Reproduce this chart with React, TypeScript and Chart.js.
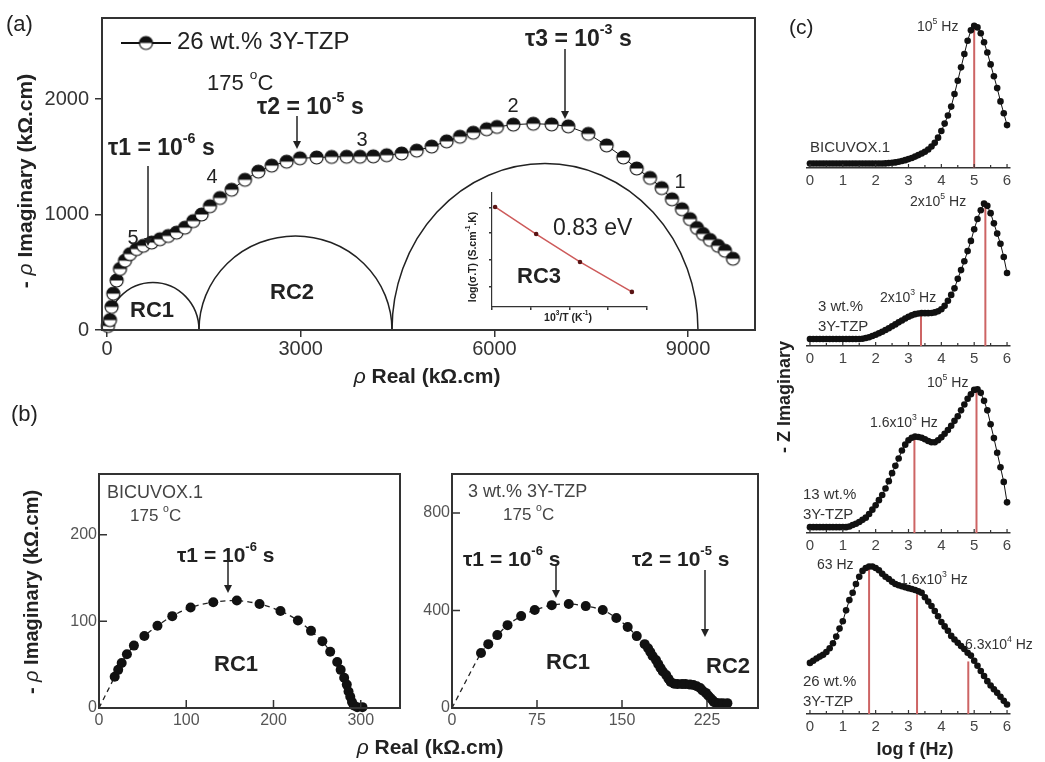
import React, { useEffect, useRef } from "react";
import { Chart, registerables } from "chart.js";
Chart.register(...registerables);

const FAMILY = '"Liberation Sans", Arial, Helvetica, sans-serif';

// ---------------- Panel (a) ----------------
const aReal = [15, 46, 72, 98, 150, 201, 279, 356, 460, 562, 692, 821, 949, 1078, 1208, 1337, 1466, 1595, 1750, 1931, 2137, 2344, 2551, 2783, 2989, 3247, 3480, 3712, 3918, 4124, 4332, 4564, 4797, 5029, 5261, 5467, 5673, 5880, 6040, 6293, 6602, 6887, 7144, 7454, 7739, 7997, 8204, 8410, 8591, 8750, 8905, 9029, 9137, 9230, 9339, 9463, 9571, 9695];
const aImag = [35, 86, 200, 315, 429, 529, 601, 658, 701, 730, 758, 787, 815, 844, 887, 944, 1001, 1073, 1144, 1216, 1302, 1373, 1425, 1459, 1488, 1495, 1500, 1502, 1502, 1505, 1515, 1530, 1555, 1590, 1635, 1675, 1710, 1740, 1760, 1780, 1788, 1782, 1765, 1700, 1600, 1495, 1400, 1318, 1230, 1133, 1047, 961, 884, 833, 781, 730, 687, 618];
const aTicksX = [0, 3000, 6000, 9000];
const aTicksY = [0, 1000, 2000];
const rcNames = ["RC1", "RC2", "RC3"];
const rcStart = [0, 1425, 4414];
const rcEnd = [1425, 4414, 9153];
const rcHeight = [412, 815, 1442];

// inset (Arrhenius plot)
const insetInvT = [2.008, 2.114, 2.227, 2.361];
const insetLogSigmaT = [-0.49, -1.44, -2.42, -3.47];
const insetTicksX = [2.0, 2.1, 2.2, 2.3, 2.4];
const insetTicksY = [-0.5, -1.4, -2.35, -3.3];

// ---------------- Panel (b) ----------------
const b1Real = [18, 22, 26, 32, 40, 52, 67, 84, 105, 131, 158, 184, 208, 228, 243, 256, 265, 273, 277, 281, 284, 286, 288, 290, 292, 296, 302];
const b1Imag = [36, 44, 52, 62, 72, 83, 95, 106, 116, 122, 124, 120, 112, 101, 89, 77, 65, 53, 44, 35, 27, 19, 13, 7, 3, 1, 1];
const b1TicksX = [0, 100, 200, 300];
const b1TicksY = [0, 100, 200];

const b2Real = [25.6, 32, 40, 49, 61, 73, 88, 103, 118, 133, 145, 155, 163, 170, 173, 175, 177, 180, 182, 184, 186, 189, 191, 193, 196, 199, 203, 206, 210, 213, 216, 219, 221, 224, 226, 228, 230, 231, 233, 236, 239, 243];
const b2Imag = [226, 262, 299, 340, 377, 402, 422, 427, 418, 402, 369, 332, 295, 262, 245, 230, 213, 197, 180, 164, 150, 135, 120, 107, 100, 98, 98, 98, 96, 94, 89, 82, 72, 62, 51, 41, 32, 25, 21, 20, 20, 20];
const b2TicksX = [0, 75, 150, 225];
const b2TicksY = [0, 400, 800];
const fitOrigin = { x: 0, y: 0 };

// ---------------- Panel (c) ----------------
const logF = [0, 0.1, 0.2, 0.3, 0.4, 0.5, 0.6, 0.7, 0.8, 0.9, 1, 1.1, 1.2, 1.3, 1.4, 1.5, 1.6, 1.7, 1.8, 1.9, 2, 2.1, 2.2, 2.3, 2.4, 2.5, 2.6, 2.7, 2.8, 2.9, 3, 3.1, 3.2, 3.3, 3.4, 3.5, 3.6, 3.7, 3.8, 3.9, 4, 4.1, 4.2, 4.3, 4.4, 4.5, 4.6, 4.7, 4.8, 4.9, 5, 5.1, 5.2, 5.3, 5.4, 5.5, 5.6, 5.7, 5.8, 5.9, 6];
const cBicuvox = [0.03, 0.03, 0.03, 0.03, 0.03, 0.03, 0.03, 0.03, 0.03, 0.03, 0.03, 0.03, 0.03, 0.03, 0.03, 0.03, 0.03, 0.03, 0.03, 0.03, 0.03, 0.03, 0.03, 0.031, 0.033, 0.035, 0.038, 0.042, 0.047, 0.053, 0.06, 0.068, 0.077, 0.087, 0.098, 0.11, 0.125, 0.145, 0.17, 0.205, 0.25, 0.3, 0.355, 0.415, 0.5, 0.59, 0.68, 0.77, 0.86, 0.93, 0.96, 0.95, 0.91, 0.85, 0.78, 0.7, 0.62, 0.54, 0.45, 0.37, 0.29];
const c3wt = [0.048, 0.048, 0.048, 0.048, 0.048, 0.048, 0.048, 0.048, 0.048, 0.048, 0.048, 0.048, 0.048, 0.048, 0.048, 0.048, 0.05, 0.055, 0.06, 0.068, 0.077, 0.087, 0.098, 0.11, 0.122, 0.135, 0.148, 0.162, 0.175, 0.188, 0.2, 0.21, 0.218, 0.223, 0.225, 0.225, 0.225, 0.226, 0.23, 0.238, 0.252, 0.275, 0.31, 0.35, 0.395, 0.46, 0.52, 0.58, 0.65, 0.72, 0.8, 0.87, 0.93, 0.975, 0.96, 0.91, 0.84, 0.77, 0.7, 0.61, 0.5];
const c13wt = [0.04, 0.04, 0.04, 0.04, 0.04, 0.04, 0.04, 0.04, 0.04, 0.04, 0.04, 0.04, 0.045, 0.055, 0.063, 0.075, 0.09, 0.105, 0.13, 0.16, 0.19, 0.225, 0.26, 0.305, 0.355, 0.41, 0.46, 0.51, 0.565, 0.605, 0.635, 0.652, 0.66, 0.658, 0.652, 0.642, 0.63, 0.622, 0.622, 0.635, 0.655, 0.68, 0.705, 0.735, 0.768, 0.8, 0.84, 0.88, 0.92, 0.95, 0.98, 0.985, 0.96, 0.905, 0.84, 0.745, 0.65, 0.55, 0.45, 0.35, 0.21];
const c26wt = [0.35, 0.365, 0.38, 0.393, 0.405, 0.425, 0.45, 0.485, 0.53, 0.585, 0.635, 0.71, 0.78, 0.83, 0.89, 0.94, 0.98, 1.0, 1.01, 1.01, 1.0, 0.985, 0.96, 0.94, 0.925, 0.905, 0.89, 0.882, 0.875, 0.868, 0.862, 0.856, 0.849, 0.84, 0.83, 0.8, 0.77, 0.74, 0.705, 0.67, 0.63, 0.6, 0.57, 0.535, 0.51, 0.488, 0.465, 0.445, 0.42, 0.4, 0.365, 0.33, 0.295, 0.26, 0.225, 0.195, 0.17, 0.145, 0.118, 0.09, 0.065];
const cTicks = [0, 1, 2, 3, 4, 5, 6];
const cMinorTicks = [0.5, 1.5, 2.5, 3.5, 4.5, 5.5];
const peaksBicuvoxX = [5.0];
const peaksBicuvoxH = [0.96];
const peaks3wtX = [3.38, 5.34];
const peaks3wtH = [0.215, 0.975];
const peaks13wtX = [3.18, 5.07];
const peaks13wtH = [0.655, 0.985];
const peaks26wtX = [1.8, 3.26, 4.82];
const peaks26wtH = [1.01, 0.82, 0.36];

// ---------------- helpers ----------------
type Seg = { t: string; sup?: boolean; it?: boolean; b?: boolean };

function fontStr(size: number, bold: boolean, italic: boolean) {
  return `${italic ? "italic " : ""}${bold ? "bold " : ""}${size}px ${FAMILY}`;
}

function rich(
  ctx: CanvasRenderingContext2D,
  segs: Seg[] | string,
  x: number,
  y: number,
  size: number,
  o: { bold?: boolean; align?: "left" | "center" | "right"; color?: string; rot?: boolean } = {}
) {
  const list: Seg[] = typeof segs === "string" ? [{ t: segs }] : segs;
  ctx.save();
  ctx.translate(x, y);
  if (o.rot) ctx.rotate(-Math.PI / 2);
  ctx.fillStyle = o.color || "#222";
  ctx.textBaseline = "middle";
  ctx.textAlign = "left";
  const widths = list.map((s) => {
    const sz = s.sup ? size * 0.62 : size;
    ctx.font = fontStr(sz, s.b !== undefined ? s.b : !!o.bold, !!s.it);
    return ctx.measureText(s.t).width;
  });
  const total = widths.reduce((a, b) => a + b, 0);
  let cx = o.align === "center" ? -total / 2 : o.align === "right" ? -total : 0;
  list.forEach((s, i) => {
    const sz = s.sup ? size * 0.62 : size;
    ctx.font = fontStr(sz, s.b !== undefined ? s.b : !!o.bold, !!s.it);
    ctx.fillText(s.t, cx, s.sup ? -size * 0.42 : 0);
    cx += widths[i];
  });
  ctx.restore();
}

function arrow(ctx: CanvasRenderingContext2D, x: number, y1: number, y2: number, head = 8) {
  ctx.save();
  ctx.strokeStyle = "#222";
  ctx.fillStyle = "#222";
  ctx.lineWidth = 1.5;
  ctx.beginPath();
  ctx.moveTo(x, y1);
  ctx.lineTo(x, y2 - head + 1);
  ctx.stroke();
  ctx.beginPath();
  ctx.moveTo(x - head * 0.5, y2 - head);
  ctx.lineTo(x + head * 0.5, y2 - head);
  ctx.lineTo(x, y2);
  ctx.closePath();
  ctx.fill();
  ctx.restore();
}

function tau(n: string, exp: string): Seg[] {
  return [{ t: "τ" + n + " = 10" }, { t: exp, sup: true }, { t: " s" }];
}

function halfMarker(r: number) {
  const size = Math.ceil(2 * r + 4);
  const c = document.createElement("canvas");
  c.width = size;
  c.height = size;
  const g = c.getContext("2d")!;
  const m = size / 2;
  g.fillStyle = "#fff";
  g.beginPath();
  g.arc(m, m, r, 0, Math.PI * 2);
  g.fill();
  g.fillStyle = "#111";
  g.beginPath();
  g.arc(m, m, r, Math.PI, Math.PI * 2);
  g.closePath();
  g.fill();
  g.strokeStyle = "#111";
  g.lineWidth = 1.2;
  g.beginPath();
  g.arc(m, m, r, 0, Math.PI * 2);
  g.stroke();
  return c;
}

const fixedTicks = (values: number[]) => (s: any) => {
  s.ticks = values.map((v) => ({ value: v }));
};

function axis(
  min: number,
  max: number,
  ticks: number[],
  dir: "x" | "y",
  size: number,
  o: { font: number; color: string; pad: number; outTicks: number; border: number; show?: boolean }
) {
  return {
    type: "linear",
    min,
    max,
    afterBuildTicks: fixedTicks(ticks),
    afterFit: (s: any) => {
      if (dir === "x") s.height = size;
      else s.width = size;
    },
    grid: {
      drawOnChartArea: false,
      drawTicks: o.outTicks > 0,
      tickLength: o.outTicks,
      color: "#333",
      lineWidth: 1.5,
    },
    border: { display: true, color: "#333", width: o.border },
    ticks: {
      display: o.show !== false,
      color: o.color,
      font: { family: FAMILY, size: o.font },
      padding: o.pad,
      maxRotation: 0,
      autoSkip: false,
      callback: (v: any) => String(v),
    },
  } as any;
}

const baseOpts = {
  animation: false,
  responsive: false,
  devicePixelRatio: 1,
  events: [] as any[],
  plugins: { legend: { display: false }, tooltip: { enabled: false } },
};

function frame(ctx: CanvasRenderingContext2D, a: any, w = 2) {
  ctx.save();
  ctx.strokeStyle = "#333";
  ctx.lineWidth = w;
  ctx.strokeRect(a.left, a.top, a.right - a.left, a.bottom - a.top);
  ctx.restore();
}

function inwardTicks(ctx: CanvasRenderingContext2D, chart: any, xs: number[], ys: number[], len: number) {
  const a = chart.chartArea;
  const sx = chart.scales.x;
  const sy = chart.scales.y;
  ctx.save();
  ctx.strokeStyle = "#333";
  ctx.lineWidth = 1.5;
  ctx.beginPath();
  xs.forEach((v) => {
    const p = sx.getPixelForValue(v);
    ctx.moveTo(p, a.bottom);
    ctx.lineTo(p, a.bottom - len);
  });
  ys.forEach((v) => {
    const p = sy.getPixelForValue(v);
    ctx.moveTo(a.left, p);
    ctx.lineTo(a.left + len, p);
  });
  ctx.stroke();
  ctx.restore();
}

// ---------------- builders ----------------
function buildA(canvas: HTMLCanvasElement) {
  const marker = halfMarker(6.5);
  const pts = aReal.map((x, i) => ({ x, y: aImag[i] }));
  return new Chart(canvas, {
    type: "scatter",
    data: {
      datasets: [
        {
          data: pts,
          showLine: true,
          borderColor: "#111",
          borderWidth: 1,
          pointStyle: marker as any,
          pointRadius: 7,
          clip: false as any,
        },
      ],
    },
    options: {
      ...baseOpts,
      layout: { padding: { left: 0, top: 15, right: 15, bottom: 0 } },
      scales: {
        x: axis(-77, 10036, aTicksX, "x", 70, { font: 20, color: "#333", pad: 0, outTicks: 7, border: 2 }),
        y: axis(0, 2704, aTicksY, "y", 102, { font: 20, color: "#333", pad: 6, outTicks: 7, border: 2 }),
      },
    } as any,
    plugins: [
      {
        id: "aArcs",
        beforeDatasetsDraw(chart: any) {
          const ctx = chart.ctx;
          const sx = chart.scales.x;
          const sy = chart.scales.y;
          ctx.save();
          ctx.strokeStyle = "#222";
          ctx.lineWidth = 1.5;
          rcStart.forEach((s, i) => {
            const cx = sx.getPixelForValue((s + rcEnd[i]) / 2);
            const rx = sx.getPixelForValue(rcEnd[i]) - cx;
            const cy = sy.getPixelForValue(0);
            const ry = cy - sy.getPixelForValue(rcHeight[i]);
            ctx.beginPath();
            ctx.ellipse(cx, cy, rx, ry, 0, Math.PI, Math.PI * 2);
            ctx.stroke();
          });
          ctx.restore();
        },
        afterDraw(chart: any) {
          const ctx = chart.ctx as CanvasRenderingContext2D;
          frame(ctx, chart.chartArea, 2);
          // legend
          ctx.save();
          ctx.strokeStyle = "#111";
          ctx.lineWidth = 2;
          ctx.beginPath();
          ctx.moveTo(121, 43);
          ctx.lineTo(171, 43);
          ctx.stroke();
          ctx.drawImage(marker, 146 - marker.width / 2, 43 - marker.height / 2);
          ctx.restore();
          rich(ctx, "26 wt.% 3Y-TZP", 177, 42, 24);
          rich(ctx, [{ t: "175 " }, { t: "o", sup: true }, { t: "C" }], 207, 84, 22);
          rich(ctx, "(a)", 6, 25, 22);
          // tau labels
          rich(ctx, tau("1", "-6"), 108, 149, 23, { bold: true });
          arrow(ctx, 148, 166, 246);
          rich(ctx, tau("2", "-5"), 257, 108, 23, { bold: true });
          arrow(ctx, 297, 116, 149);
          rich(ctx, tau("3", "-3"), 525, 40, 23, { bold: true });
          arrow(ctx, 565, 49, 119);
          // frequency decade labels
          [["5", 133, 238], ["4", 212, 177], ["3", 362, 140], ["2", 513, 106], ["1", 680, 182]].forEach((d: any) =>
            rich(ctx, d[0], d[1], d[2], 20, { align: "center" })
          );
          // RC labels
          rich(ctx, rcNames[0], 152, 311, 22, { bold: true, align: "center" });
          rich(ctx, rcNames[1], 292, 293, 22, { bold: true, align: "center" });
          rich(ctx, rcNames[2], 539, 277, 22, { bold: true, align: "center" });
          rich(ctx, "0.83 eV", 553, 229, 23);
          // axis titles
          rich(ctx, [{ t: "ρ", it: true, b: false }, { t: " Real (kΩ.cm)" }], 427, 377, 21, { bold: true, align: "center" });
          rich(ctx, [{ t: "- " }, { t: "ρ", it: true, b: false }, { t: " Imaginary (kΩ.cm)" }], 26, 181, 21, {
            bold: true,
            align: "center",
            rot: true,
          });
        },
      },
    ],
  });
}

function buildInset(canvas: HTMLCanvasElement) {
  const pts = insetInvT.map((x, i) => ({ x, y: insetLogSigmaT[i] }));
  return new Chart(canvas, {
    type: "scatter",
    data: {
      datasets: [
        {
          data: pts,
          showLine: true,
          borderColor: "rgb(205,90,90)",
          borderWidth: 1.5,
          pointRadius: 2.3,
          pointBackgroundColor: "#5a1414",
          pointBorderWidth: 0,
          clip: false as any,
        },
      ],
    },
    options: {
      ...baseOpts,
      layout: { padding: { left: 0, top: 13, right: 23, bottom: 0 } },
      scales: {
        x: axis(2.0, 2.4, insetTicksX, "x", 33, { font: 10, color: "#333", pad: 0, outTicks: 3, border: 1.2, show: false }),
        y: axis(-4, 0, insetTicksY, "y", 52, { font: 10, color: "#333", pad: 0, outTicks: 3, border: 1.2, show: false }),
      },
    } as any,
    plugins: [
      {
        id: "insetText",
        afterDraw(chart: any) {
          const ctx = chart.ctx as CanvasRenderingContext2D;
          rich(ctx, [{ t: "log(σ.T) (S.cm" }, { t: "-1", sup: true }, { t: ".K)" }], 33, 77, 10.5, {
            bold: true,
            align: "center",
            rot: true,
          });
          rich(ctx, [{ t: "10" }, { t: "3", sup: true }, { t: "/T (K" }, { t: "-1", sup: true }, { t: ")" }], 128, 138, 10.5, {
            bold: true,
            align: "center",
          });
        },
      },
    ],
  });
}

function nyquistDatasets(real: number[], imag: number[]) {
  const pts = real.map((x, i) => ({ x, y: imag[i] }));
  return [
    {
      data: pts,
      showLine: false,
      pointRadius: 5,
      pointBackgroundColor: "#111",
      pointBorderWidth: 0,
      clip: false as any,
    },
    {
      data: [fitOrigin, ...pts],
      showLine: true,
      borderColor: "#222",
      borderWidth: 1.3,
      borderDash: [5, 4],
      tension: 0.3,
      pointRadius: 0,
      clip: false as any,
    },
  ];
}

function buildB1(canvas: HTMLCanvasElement) {
  return new Chart(canvas, {
    type: "scatter",
    data: { datasets: nyquistDatasets(b1Real, b1Imag) as any },
    options: {
      ...baseOpts,
      layout: { padding: { left: 0, top: 104, right: 4, bottom: 0 } },
      scales: {
        x: axis(0, 345, b1TicksX, "x", 54, { font: 16, color: "#555", pad: 3, outTicks: 0, border: 2 }),
        y: axis(0, 270, b1TicksY, "y", 99, { font: 16, color: "#555", pad: 2, outTicks: 0, border: 2 }),
      },
    } as any,
    plugins: [
      {
        id: "b1Deco",
        afterDraw(chart: any) {
          const ctx = chart.ctx as CanvasRenderingContext2D;
          frame(ctx, chart.chartArea, 2);
          inwardTicks(ctx, chart, b1TicksX, b1TicksY, 8);
          rich(ctx, "(b)", 11, 45, 22);
          rich(ctx, "BICUVOX.1", 107, 123, 18, { color: "#444" });
          rich(ctx, [{ t: "175 " }, { t: "o", sup: true }, { t: "C" }], 130, 146, 17, { color: "#444" });
          rich(ctx, tau("1", "-6"), 177, 186, 21, { bold: true });
          arrow(ctx, 228, 192, 223);
          rich(ctx, "RC1", 236, 295, 22, { bold: true, align: "center" });
          rich(ctx, [{ t: "- " }, { t: "ρ", it: true, b: false }, { t: " Imaginary (kΩ.cm)" }], 32, 222, 20, {
            bold: true,
            align: "center",
            rot: true,
          });
        },
      },
    ],
  });
}

function buildB2(canvas: HTMLCanvasElement) {
  return new Chart(canvas, {
    type: "scatter",
    data: { datasets: nyquistDatasets(b2Real, b2Imag) as any },
    options: {
      ...baseOpts,
      layout: { padding: { left: 0, top: 104, right: 12, bottom: 0 } },
      scales: {
        x: axis(0, 270, b2TicksX, "x", 54, { font: 16, color: "#555", pad: 3, outTicks: 0, border: 2 }),
        y: axis(0, 960, b2TicksY, "y", 122, { font: 16, color: "#555", pad: 2, outTicks: 0, border: 2 }),
      },
    } as any,
    plugins: [
      {
        id: "b2Deco",
        afterDraw(chart: any) {
          const ctx = chart.ctx as CanvasRenderingContext2D;
          frame(ctx, chart.chartArea, 2);
          inwardTicks(ctx, chart, b2TicksX, b2TicksY, 8);
          rich(ctx, "3 wt.% 3Y-TZP", 138, 122, 18, { color: "#444" });
          rich(ctx, [{ t: "175 " }, { t: "o", sup: true }, { t: "C" }], 173, 145, 17, { color: "#444" });
          rich(ctx, tau("1", "-6"), 133, 190, 21, { bold: true });
          arrow(ctx, 226, 196, 228);
          rich(ctx, tau("2", "-5"), 302, 190, 21, { bold: true });
          arrow(ctx, 375, 200, 267);
          rich(ctx, "RC1", 238, 293, 22, { bold: true, align: "center" });
          rich(ctx, "RC2", 398, 297, 22, { bold: true, align: "center" });
          rich(ctx, [{ t: "ρ", it: true, b: false }, { t: " Real (kΩ.cm)" }], 100, 378, 21, { bold: true, align: "center" });
        },
      },
    ],
  });
}

type CSpec = {
  padTop: number;
  axisH: number;
  values: number[];
  peakX: number[];
  peakH: number[];
  deco: (ctx: CanvasRenderingContext2D) => void;
};

function makeC(spec: CSpec) {
  return (canvas: HTMLCanvasElement) => {
    const pts = logF.map((x, i) => ({ x, y: spec.values[i] }));
    const reds = spec.peakX.map((x, i) => ({
      data: [
        { x, y: 0 },
        { x, y: spec.peakH[i] },
      ],
      showLine: true,
      borderColor: "rgb(205,100,100)",
      borderWidth: 2,
      pointRadius: 0,
      clip: false as any,
    }));
    return new Chart(canvas, {
      type: "scatter",
      data: {
        datasets: [
          {
            data: pts,
            showLine: true,
            borderColor: "#111",
            borderWidth: 1,
            pointRadius: 3.3,
            pointBackgroundColor: "#111",
            pointBorderWidth: 0,
            clip: false as any,
          },
          ...reds,
        ] as any,
      },
      options: {
        ...baseOpts,
        layout: { padding: { left: 37, top: spec.padTop, right: 35, bottom: 0 } },
        scales: {
          x: axis(-0.09, 6.09, cTicks, "x", spec.axisH, { font: 15, color: "#444", pad: 4, outTicks: 0, border: 1.5 }),
          y: { type: "linear", min: 0, max: 1, display: false },
        },
      } as any,
      plugins: [
        {
          id: "cDeco",
          afterDraw(chart: any) {
            const ctx = chart.ctx as CanvasRenderingContext2D;
            const sx = chart.scales.x;
            const b = chart.chartArea.bottom;
            ctx.save();
            ctx.strokeStyle = "#333";
            ctx.lineWidth = 1.2;
            ctx.beginPath();
            cTicks.forEach((v) => {
              const p = sx.getPixelForValue(v);
              ctx.moveTo(p, b);
              ctx.lineTo(p, b - 4);
            });
            cMinorTicks.forEach((v) => {
              const p = sx.getPixelForValue(v);
              ctx.moveTo(p, b);
              ctx.lineTo(p, b - 3);
            });
            ctx.stroke();
            ctx.restore();
            spec.deco(ctx);
          },
        },
      ],
    });
  };
}

const hz = (m: string, e: string): Seg[] => [{ t: m + "10" }, { t: e, sup: true }, { t: " Hz" }];

const buildC1 = makeC({
  padTop: 20,
  axisH: 32,
  values: cBicuvox,
  peakX: peaksBicuvoxX,
  peakH: peaksBicuvoxH,
  deco: (ctx) => {
    rich(ctx, "(c)", 19, 28, 21);
    rich(ctx, hz("", "5"), 147, 27, 14, { color: "#333" });
    rich(ctx, "BICUVOX.1", 40, 148, 15, { color: "#333" });
  },
});

const buildC2 = makeC({
  padTop: 20,
  axisH: 24,
  values: c3wt,
  peakX: peaks3wtX,
  peakH: peaks3wtH,
  deco: (ctx) => {
    rich(ctx, hz("2x", "5"), 140, 22, 14, { color: "#333" });
    rich(ctx, hz("2x", "3"), 110, 118, 14, { color: "#333" });
    rich(ctx, "3 wt.%", 48, 127, 15, { color: "#333" });
    rich(ctx, "3Y-TZP", 48, 147, 15, { color: "#333" });
  },
});

const buildC3 = makeC({
  padTop: 67,
  axisH: 27,
  values: c13wt,
  peakX: peaks13wtX,
  peakH: peaks13wtH,
  deco: (ctx) => {
    rich(ctx, "- Z Imaginary", 15, 77, 18, { bold: true, align: "center", rot: true });
    rich(ctx, hz("", "5"), 157, 63, 14, { color: "#333" });
    rich(ctx, hz("1.6x", "3"), 100, 103, 14, { color: "#333" });
    rich(ctx, "13 wt.%", 33, 175, 15, { color: "#333" });
    rich(ctx, "3Y-TZP", 33, 195, 15, { color: "#333" });
  },
});

const buildC4 = makeC({
  padTop: 28,
  axisH: 48,
  values: c26wt,
  peakX: peaks26wtX,
  peakH: peaks26wtH,
  deco: (ctx) => {
    rich(ctx, "63 Hz", 47, 25, 14, { color: "#333" });
    rich(ctx, hz("1.6x", "3"), 130, 40, 14, { color: "#333" });
    rich(ctx, hz("6.3x", "4"), 195, 105, 14, { color: "#333" });
    rich(ctx, "26 wt.%", 33, 142, 15, { color: "#333" });
    rich(ctx, "3Y-TZP", 33, 162, 15, { color: "#333" });
    rich(ctx, "log f (Hz)", 145, 210, 18, { bold: true, align: "center" });
  },
});

// ---------------- components ----------------
function ChartBox(props: {
  left: number;
  top: number;
  width: number;
  height: number;
  build: (c: HTMLCanvasElement) => Chart;
}) {
  const ref = useRef<HTMLCanvasElement | null>(null);
  const { left, top, width, height, build } = props;
  useEffect(() => {
    if (!ref.current) return;
    const ch = build(ref.current);
    return () => ch.destroy();
  }, [build]);
  return (
    <canvas
      ref={ref}
      width={width}
      height={height}
      style={{ position: "absolute", left, top, width, height, display: "block" }}
    />
  );
}

export default function App() {
  return (
    <div
      style={{
        position: "absolute",
        left: 0,
        top: 0,
        width: 1045,
        height: 762,
        background: "#fff",
        overflow: "hidden",
      }}
    >
      <ChartBox left={0} top={0} width={770} height={400} build={buildA} />
      <ChartBox left={440} top={180} width={230} height={160} build={buildInset} />
      <ChartBox left={0} top={370} width={405} height={392} build={buildB1} />
      <ChartBox left={330} top={370} width={440} height={392} build={buildB2} />
      <ChartBox left={770} top={0} width={275} height={200} build={buildC1} />
      <ChartBox left={770} top={180} width={275} height={190} build={buildC2} />
      <ChartBox left={770} top={320} width={275} height={240} build={buildC3} />
      <ChartBox left={770} top={540} width={275} height={222} build={buildC4} />
    </div>
  );
}
